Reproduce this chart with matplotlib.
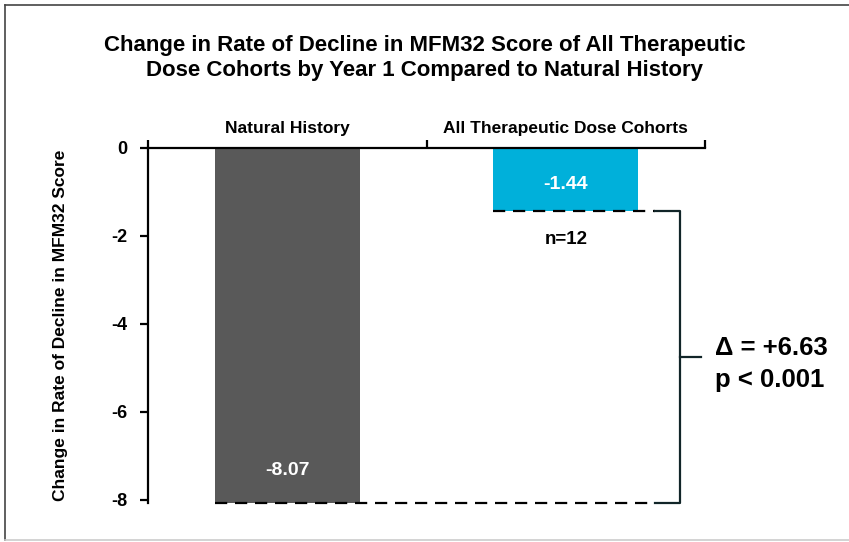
import matplotlib.pyplot as plt
from matplotlib.lines import Line2D

plt.rcParams['font.family'] = ['Liberation Sans', 'DejaVu Sans']
plt.rcParams['font.weight'] = 'bold'

# data
categories = ['Natural History', 'All Therapeutic Dose Cohorts']
values = [-8.07, -1.44]
colors = ['#595959', '#00B0DA']
n_label = 'n=12'
delta_text = '\u0394 = +6.63\np < 0.001'
yticks = [0, -2, -4, -6, -8]

fig = plt.figure(figsize=(8.49, 5.42), dpi=100)
ax = fig.add_axes([148 / 849, 1 - 503 / 542, (705 - 148) / 849, (503 - 148) / 542])

x = list(range(len(categories)))
bw = 0.52
ax.bar(x, values, width=bw, color=colors, zorder=2)

ax.set_xlim(-0.5, len(categories) - 0.5)
ax.set_ylim(min(values), 0)

# spines: only left and top
for s in ['right', 'bottom']:
    ax.spines[s].set_visible(False)
for s in ['left', 'top']:
    ax.spines[s].set_linewidth(1.6)
    ax.spines[s].set_zorder(3)

ax.xaxis.tick_top()
ax.set_xticks([-0.5, 0.5, 1.5])
ax.set_xticklabels([])
ax.tick_params(axis='x', direction='out', length=6, width=1.6)
ax.set_yticks(yticks)
ax.set_yticklabels([str(t) for t in yticks], fontsize=13, fontweight='bold')
ax.tick_params(axis='y', direction='out', length=6, width=1.6, pad=9)

for xi, cat in zip(x, categories):
    ax.text(xi, 1.056, cat, transform=ax.get_xaxis_transform(), ha='center',
            va='center', fontsize=12.5, fontweight='bold')

ax.set_ylabel('Change in Rate of Decline in MFM32 Score', fontsize=12.5,
              fontweight='bold', labelpad=31)

# value labels
ax.text(x[0], values[0] + 0.75, f'{values[0]:.2f}', ha='center', va='center',
        color='white', fontsize=14, fontweight='bold', zorder=4)
ax.text(x[1], values[1] / 2 - 0.1, f'{values[1]:.2f}', ha='center', va='center',
        color='white', fontsize=14, fontweight='bold', zorder=4)
ax.text(x[1], values[1] - 0.64, n_label, ha='center', va='center',
        fontsize=13.5, fontweight='bold')

# dashed reference lines and bracket
bx = 1.41
dash = (0, (5.5, 3.5))
ax.plot([x[1] - bw / 2, bx - 0.09], [values[1]] * 2, ls=dash,
        color='black', lw=1.6, zorder=3, clip_on=False)
ax.plot([x[0] - bw / 2, bx - 0.09], [values[0]] * 2, ls=dash,
        color='black', lw=1.6, zorder=3, clip_on=False)
ax.plot([bx - 0.09, bx, bx, bx - 0.09], [values[1], values[1], values[0], values[0]],
        color='#112528', lw=1.6, clip_on=False, zorder=3)
mid = (values[0] + values[1]) / 2
ax.plot([bx, bx + 0.075], [mid, mid], color='#112528', lw=1.6, clip_on=False)
ax.text(bx + 0.125, mid - 0.15, delta_text, ha='left', va='center', fontsize=18.5,
        fontweight='bold', linespacing=1.4, clip_on=False)

fig.text(0.5, 1 - 58 / 542,
         'Change in Rate of Decline in MFM32 Score of All Therapeutic\n'
         'Dose Cohorts by Year 1 Compared to Natural History',
         ha='center', va='center', fontsize=16, fontweight='bold', linespacing=1.2)

# outer frame (left, top, bottom)
l, t, b = 4.5 / 849, 1 - 4.5 / 542, 1 - 539.5 / 542
fig.add_artist(Line2D([l, l], [b, t], color='#444444', lw=1.2))
fig.add_artist(Line2D([l, 1], [t, t], color='#444444', lw=1.2))
fig.add_artist(Line2D([l, 1], [b, b], color='#cccccc', lw=1.2))

plt.savefig('out.png', dpi=100)
plt.close()
